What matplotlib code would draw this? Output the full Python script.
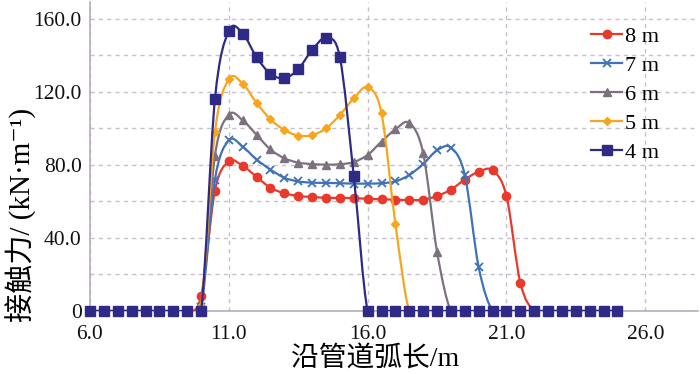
import numpy as np
import matplotlib
matplotlib.use("Agg")
import matplotlib.pyplot as plt
from matplotlib.path import Path
from matplotlib.patches import PathPatch
from matplotlib.lines import Line2D
from matplotlib.ticker import FuncFormatter, MultipleLocator

# arc length positions along the pipe (m)
x_vals = np.arange(6.0, 25.01, 0.5)

# contact force (kN/m); each series is zero outside its listed range, starting at 10.0 m
seg_start = 10.0
f_8m = [8, 66, 82, 79.5, 73.5, 67.5, 64.5, 63, 62.5, 62, 62, 61.8, 61.5, 61.2,
        61, 60.8, 61, 63, 66.5, 72, 76.3, 77, 63, 15.5]
f_7m = [2, 72, 93.5, 90, 83, 77.5, 73, 71, 70.3, 70.2, 70, 69.8, 69.8, 70, 71,
        74.5, 80.5, 88, 89.5, 74.5, 24]
f_6m = [4, 85, 107.5, 104.5, 96.5, 88.5, 83.7, 81.3, 80.5, 80.2, 80.4, 81.6,
        85.5, 92.8, 99.5, 103, 86.5, 32.5]
f_5m = [3, 98, 127, 124.5, 114, 105, 99.2, 96.1, 96.4, 100, 107.4, 116.5,
        122.5, 108.3, 47.7]
f_4m = [0, 116, 153.5, 152, 139, 130, 127.5, 132.5, 143, 149.5, 139, 74]

labels = ["8 m", "7 m", "6 m", "5 m", "4 m"]
colors = ["#E8392B", "#3F72B6", "#7D7180", "#F7A51C", "#2F2A85"]
markers = ["o", "x", "^", "D", "s"]
msizes = [6, 5.5, 6, 4.5, 6.5]

plt.rcParams["font.family"] = ["Liberation Serif", "Noto Sans CJK SC", "DejaVu Sans"]


def full_series(vals):
    y = np.zeros_like(x_vals)
    i0 = int(round((seg_start - x_vals[0]) / 0.5))
    y[i0:i0 + len(vals)] = vals
    return y


def smooth_path(x, y):
    # Excel-like smoothed line through the points (Catmull-Rom as Bezier)
    pts = np.column_stack([x, y])
    n = len(pts)
    verts = [pts[0]]
    codes = [Path.MOVETO]
    for i in range(n - 1):
        p0 = pts[i - 1] if i > 0 else pts[i]
        p1 = pts[i]
        p2 = pts[i + 1]
        p3 = pts[i + 2] if i + 2 < n else pts[i + 1]
        verts += [p1 + (p2 - p0) / 6, p2 - (p3 - p1) / 6, p2]
        codes += [Path.CURVE4] * 3
    return Path(verts, codes)


fig = plt.figure(figsize=(7.0, 3.74), dpi=100)
ax = fig.add_axes([90 / 700, 63 / 374, 608 / 700, 309 / 374])

all_series = [f_8m, f_7m, f_6m, f_5m, f_4m]
handles = []
for k, vals in enumerate(all_series):
    y = full_series(vals)
    patch = PathPatch(smooth_path(x_vals, y), fill=False, edgecolor=colors[k],
                      linewidth=1.6, zorder=3 + k, clip_on=True)
    ax.add_patch(patch)
    mk = dict(marker=markers[k], markersize=msizes[k], color=colors[k],
              markeredgecolor=colors[k])
    if markers[k] == "x":
        mk["markeredgewidth"] = 1.3
    ax.plot(x_vals, y, linestyle="none", zorder=3 + k, clip_on=False, **mk)
    handles.append(Line2D([], [], linewidth=1.6, **mk))

ax.set_xlim(6.0, 27.9)
ax.set_ylim(0, 169.3)
ax.set_xticks([6.0, 11.0, 16.0, 21.0, 26.0])
ax.xaxis.set_major_formatter(FuncFormatter(lambda v, p: f"{v:.1f}"))
ax.yaxis.set_major_locator(MultipleLocator(40))
ax.yaxis.set_minor_locator(MultipleLocator(20))
ax.yaxis.set_major_formatter(FuncFormatter(lambda v, p: "0" if v == 0 else f"{v:.1f}"))
ax.tick_params(which="both", length=0, labelsize=15.5, colors="#111111")
ax.tick_params(axis="x", pad=10)
ax.tick_params(axis="y", pad=6)

grid_kw = dict(color="#C9BFCC", linestyle=(0, (3, 3)), linewidth=1.0)
ax.grid(True, which="major", axis="both", **grid_kw)
ax.grid(True, which="minor", axis="y", **grid_kw)
ax.set_axisbelow(True)

for side in ["top", "right"]:
    ax.spines[side].set_visible(False)
for side in ["left", "bottom"]:
    ax.spines[side].set_color("#B7ABBC")
    ax.spines[side].set_linewidth(1.2)

ax.set_xlabel("沿管道弧长/m", fontsize=20)
ax.xaxis.set_label_coords(0.469, -0.158)
ax.xaxis.label.set_va("center")
ax.set_ylabel("接触力/ (kN·m⁻¹)", fontsize=21)
ax.yaxis.set_label_coords(-0.113, 0.31)
ax.yaxis.label.set_va("center")

leg = fig.legend(handles, labels, loc="upper left",
                 bbox_to_anchor=(591 / 700, 1 - 26 / 374),
                 bbox_transform=fig.transFigure, frameon=False, fontsize=16,
                 handlelength=1.4, handletextpad=0.15, labelspacing=0.38,
                 borderpad=0, borderaxespad=0)

fig.savefig("out.png", dpi=100)
